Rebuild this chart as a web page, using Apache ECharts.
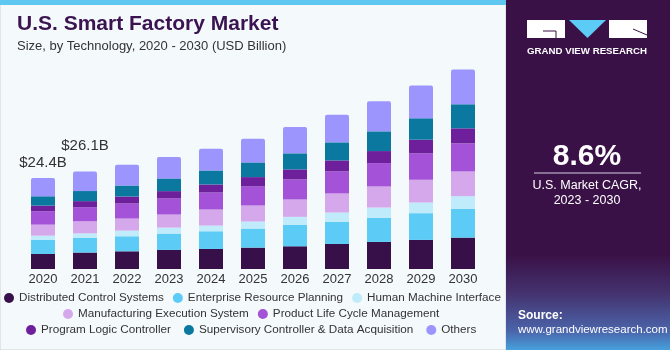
<!DOCTYPE html>
<html>
<head>
<meta charset="utf-8">
<script src="https://cdn.jsdelivr.net/npm/echarts@6/dist/echarts.min.js"></script>
<style>
  html, body { margin: 0; padding: 0; background: #fff; }
  #chart { width: 670px; height: 350px; }
</style>
</head>
<body>
<div id="chart"></div>
<script>
// values, USD billion
const years = ['2020', '2021', '2022', '2023', '2024', '2025', '2026', '2027', '2028', '2029', '2030']
const dcs   = [4.02, 4.41, 4.74, 5.10, 5.37, 5.73, 6.09, 6.71, 7.25, 7.79, 8.41]
const erp   = [3.84, 3.96, 4.03, 4.39, 4.74, 5.10, 5.73, 5.91, 6.44, 7.16, 7.70]
const hmi   = [1.07, 1.17, 1.52, 1.61, 1.52, 1.88, 2.15, 2.51, 2.77, 2.86, 3.40]
const mes   = [2.95, 3.24, 3.22, 3.49, 4.30, 4.30, 4.65, 5.10, 5.64, 6.09, 6.62]
const plm   = [3.58, 3.78, 4.03, 4.30, 4.56, 5.10, 5.37, 5.91, 6.27, 7.07, 7.52]
const plc   = [1.52, 1.62, 1.88, 1.97, 2.15, 2.51, 2.69, 2.95, 3.22, 3.67, 4.03]
const scada = [2.50, 2.70, 2.95, 3.40, 3.76, 3.94, 4.30, 4.83, 5.28, 5.73, 6.44]
const others = [4.92, 5.22, 5.55, 5.73, 5.82, 6.35, 7.07, 7.43, 8.06, 8.77, 9.31]
const totalLabels = ['$24.4B', '$26.1B', '', '', '', '', '', '', '', '', '']

const seriesDefs = [
  { name: 'Distributed Control Systems', data: dcs, color: '#37104a' },
  { name: 'Enterprise Resource Planning', data: erp, color: '#5ccbf6' },
  { name: 'Human Machine Interface', data: hmi, color: '#bfebfa' },
  { name: 'Manufacturing Execution System', data: mes, color: '#d5a8ec' },
  { name: 'Product Life Cycle Management', data: plm, color: '#a452d8' },
  { name: 'Program Logic Controller', data: plc, color: '#6e209c' },
  { name: 'Supervisory Controller & Data Acquisition', data: scada, color: '#0b78a0' },
  { name: 'Others', data: others, color: '#9b95fd' }
]

const chart = echarts.init(document.getElementById('chart'))

const series = seriesDefs.map(function (s, idx) {
  const last = idx === seriesDefs.length - 1
  return {
    type: 'bar',
    name: s.name,
    stack: 'total',
    barWidth: 24,
    itemStyle: { color: s.color, borderRadius: last ? [2, 2, 0, 0] : 0 },
    emphasis: { disabled: true },
    data: last ? s.data.map(function (v, i) {
      if (!totalLabels[i]) return v
      return {
        value: v,
        label: {
          show: true,
          position: 'top',
          distance: i === 0 ? 8 : 18,
          formatter: totalLabels[i],
          fontSize: 15,
          color: '#333',
          fontFamily: 'Liberation Sans'
        }
      }
    }) : s.data
  }
})

const legendText = { fontSize: 11.7, color: '#333', fontFamily: 'Liberation Sans' }
function legendRow (names, left, top, gap) {
  return {
    data: names, left: left, top: top, icon: 'circle', itemWidth: 10, itemHeight: 10,
    itemGap: gap, textStyle: legendText, selectedMode: false, padding: 0
  }
}

const option = {
  backgroundColor: '#fff',
  animation: false,
  color: seriesDefs.map(function (s) { return s.color }),
  grid: { left: 22, right: 186, top: 45, bottom: 81 },
  xAxis: {
    type: 'category',
    data: years,
    axisLine: { show: false },
    axisTick: { show: false },
    axisLabel: { fontSize: 13, color: '#333', margin: 4, fontFamily: 'Liberation Sans' }
  },
  yAxis: { type: 'value', min: 0, max: 60, show: false },
  legend: [
    legendRow(seriesDefs.slice(0, 3).map(s => s.name), 4, 292, 9),
    legendRow(seriesDefs.slice(3, 5).map(s => s.name), 63, 308, 9),
    legendRow(seriesDefs.slice(5).map(s => s.name), 26, 324, 13)
  ],
  graphic: [
    // left panel background and border
    { type: 'rect', z: -10, shape: { x: 0, y: 0, width: 506, height: 350 }, style: { fill: '#f4f9fc', stroke: '#cfd3d6', lineWidth: 1 } },
    { type: 'rect', z: -9, shape: { x: 0, y: 0, width: 506, height: 5 }, style: { fill: '#5ec8f0' } },
    { type: 'text', left: 17, top: 14, style: { text: 'U.S. Smart Factory Market', fontSize: 21, fontWeight: 'bold', fill: '#3a1350', fontFamily: 'Liberation Sans' } },
    { type: 'text', left: 17, top: 40, style: { text: 'Size, by Technology, 2020 - 2030 (USD Billion)', fontSize: 13, fill: '#333', fontFamily: 'Liberation Sans' } },
    // right panel
    { type: 'rect', z: -10, shape: { x: 506, y: 0, width: 164, height: 350 }, style: { fill: '#3a1147' } },
    {
      type: 'rect', z: -9, shape: { x: 506, y: 255, width: 164, height: 95 },
      style: {
        fill: new echarts.graphic.LinearGradient(0, 0, 0, 1, [
          { offset: 0, color: 'rgba(58,17,71,1)' },
          { offset: 0.4, color: 'rgba(68,50,110,1)' },
          { offset: 0.8, color: 'rgba(75,100,170,1)' },
          { offset: 1, color: 'rgba(70,160,220,1)' }
        ])
      }
    },
    { type: 'rect', shape: { x: 527, y: 20, width: 38, height: 18 }, style: { fill: '#fff' } },
    { type: 'polyline', shape: { points: [[543, 31], [556, 31], [556, 38]] }, style: { stroke: '#3a1147', lineWidth: 1, fill: null } },
    { type: 'polygon', shape: { points: [[569, 20], [606, 20], [587.5, 38]] }, style: { fill: '#5ccbf6' } },
    { type: 'rect', shape: { x: 609, y: 20, width: 38, height: 18 }, style: { fill: '#fff' } },
    { type: 'line', shape: { x1: 633, y1: 29, x2: 647, y2: 35 }, style: { stroke: '#3a1147', lineWidth: 1 } },
    { type: 'text', x: 587, y: 51, style: { text: 'GRAND VIEW RESEARCH', fontSize: 9.7, fontWeight: 'bold', fill: '#fff', align: 'center', verticalAlign: 'middle', fontFamily: 'Liberation Sans' } },
    { type: 'text', x: 587, y: 157, style: { text: '8.6%', fontSize: 30, fontWeight: 'bold', fill: '#fff', align: 'center', verticalAlign: 'middle', fontFamily: 'Liberation Sans' } },
    { type: 'line', shape: { x1: 534, y1: 173, x2: 641, y2: 173 }, style: { stroke: '#d8cfe0', lineWidth: 1 } },
    { type: 'text', x: 587, y: 186, style: { text: 'U.S. Market CAGR,', fontSize: 12.5, fill: '#fff', align: 'center', verticalAlign: 'middle', fontFamily: 'Liberation Sans' } },
    { type: 'text', x: 587, y: 201, style: { text: '2023 - 2030', fontSize: 12.5, fill: '#fff', align: 'center', verticalAlign: 'middle', fontFamily: 'Liberation Sans' } },
    { type: 'text', x: 518, y: 316, style: { text: 'Source:', fontSize: 12, fontWeight: 'bold', fill: '#fff', verticalAlign: 'middle', fontFamily: 'Liberation Sans' } },
    { type: 'text', x: 518, y: 330, style: { text: 'www.grandviewresearch.com', fontSize: 11.5, fill: '#fff', verticalAlign: 'middle', fontFamily: 'Liberation Sans' } }
  ],
  series: series
}

chart.setOption(option)
</script>
</body>
</html>
